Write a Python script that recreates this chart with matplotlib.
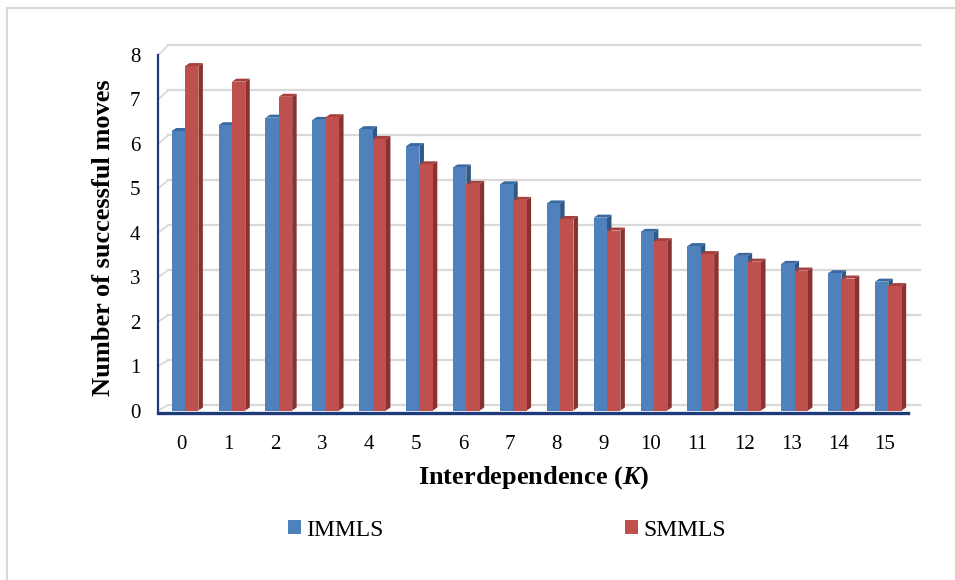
import matplotlib
matplotlib.use("Agg")
import matplotlib.pyplot as plt
from matplotlib.patches import Polygon, Patch, Rectangle
import numpy as np

categories = list(range(16))
tick_labels = [str(c) for c in categories]
immls = [6.29, 6.42, 6.59, 6.54, 6.33, 5.95, 5.47, 5.09, 4.66, 4.34, 4.02, 3.70, 3.48, 3.30, 3.09, 2.90]
smmls = [7.75, 7.40, 7.06, 6.60, 6.11, 5.54, 5.10, 4.74, 4.31, 4.05, 3.81, 3.52, 3.35, 3.15, 2.97, 2.80]
series_names = ["IMMLS", "SMMLS"]
y_ticks = list(range(0, 9))

plt.rcParams['font.family'] = ['Liberation Serif', 'DejaVu Serif']
plt.rcParams['mathtext.fontset'] = 'custom'
plt.rcParams['mathtext.it'] = 'Liberation Serif:italic:bold'
plt.rcParams['mathtext.rm'] = 'Liberation Serif:bold'

W, H = 955, 580
fig = plt.figure(figsize=(W / 100, H / 100), dpi=100)

# outer chart border (left and top visible)
fig.patches.append(Rectangle((7 / W, -0.1), 1.2, 1 - 8 / H + 0.1, transform=fig.transFigure,
                             fill=False, edgecolor='#d9d9d9', lw=1.5))

ax_left, ax_right = 158.3, 908
ax_top, ax_bot = 55, 410.5
ax = fig.add_axes([ax_left / W, 1 - ax_bot / H, (ax_right - ax_left) / W, (ax_bot - ax_top) / H])
ax.set_xlim(-0.5, 15.49)
ax.set_ylim(0, 8)
ax.patch.set_visible(False)

# pixel-to-data helpers for 3D look
px_x = 15.99 / (ax_right - ax_left)
px_y = 8 / (ax_bot - ax_top)

# back wall gridlines
grid_col = '#d9d9d9'
x_back0 = -0.5 + 10 * px_x
x_back1 = 15.49 + 12 * px_x
for v in y_ticks:
    yb = (ax_bot - (405 - 45 * v)) * px_y
    ax.plot([x_back0, x_back1], [yb, yb], color=grid_col, lw=1.6, clip_on=False, zorder=0)
    ax.plot([-0.5, x_back0], [v, yb], color=grid_col, lw=1.3, clip_on=False, zorder=0)

# bars
blue_front, blue_top, blue_side = '#4f81bd', '#3a68a0', '#2f5887'
red_front, red_top, red_side = '#c0504d', '#a5403d', '#8a3230'
bw = 0.285
off_blue = -0.215
off_red = off_blue + bw
dx = 4.5 * px_x
dy = 3.0 * px_y

def draw_bar(x0, h, front, top, side, z):
    x1 = x0 + bw
    ax.add_patch(Polygon([(x1, 0), (x1 + dx, dy), (x1 + dx, h + dy), (x1, h)],
                         closed=True, facecolor=side, edgecolor='none', zorder=z))
    ax.add_patch(Polygon([(x0, h), (x1, h), (x1 + dx, h + dy), (x0 + dx, h + dy)],
                         closed=True, facecolor=top, edgecolor='none', zorder=z))
    ax.bar(x0, h, width=bw, align='edge', color=front, edgecolor='none', zorder=z + 0.1)

for i, c in enumerate(categories):
    draw_bar(c + off_blue, immls[i], blue_front, blue_top, blue_side, 2 + i * 0.01)
    draw_bar(c + off_red, smmls[i], red_front, red_top, red_side, 2.5 + i * 0.01)

# axes styling
for s in ['top', 'right']:
    ax.spines[s].set_visible(False)
axis_col = '#1f3a78'
ax.spines['left'].set_color(axis_col)
ax.spines['left'].set_linewidth(1.6)
ax.spines['bottom'].set_color(axis_col)
ax.spines['bottom'].set_linewidth(2.4)
ax.spines['bottom'].set_position(('outward', 1.5))

ax.set_xticks(categories)
ax.set_xticklabels(tick_labels)
ax.set_yticks(y_ticks)
ax.tick_params(axis='both', length=0, labelsize=15, colors='#000000')
ax.tick_params(axis='y', pad=13)
ax.tick_params(axis='x', pad=16)

fig.text(534 / W, 1 - 478 / H, r"Interdependence ($K$)", fontsize=19, fontweight='bold',
         ha='center', va='center')
fig.text(103 / W, 1 - 238 / H, "Number of successful moves", fontsize=19, fontweight='bold',
         rotation=90, ha='center', va='center')

handles = [Patch(facecolor=blue_front, edgecolor='none'), Patch(facecolor=red_front, edgecolor='none')]
fig.legend(handles, series_names, loc='center', bbox_to_anchor=(507 / W, 1 - 530 / H), ncol=2,
           frameon=False, fontsize=17, handlelength=0.55, handleheight=0.55,
           handletextpad=0.25, columnspacing=10.2)

fig.savefig("out.png", dpi=100)
